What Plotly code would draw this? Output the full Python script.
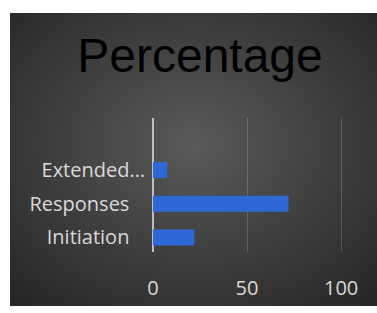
import base64
import plotly.graph_objects as go

categories = ["Initiation", "Responses", "Extended…"]
values = [22, 72, 7.5]
x_ticks = [0, 50, 100]

W, H = 377, 313
L, R, T, B = 153, 34, 118, 56
pw, ph = W - L - R, H - T - B

# padded tick text so short labels end further left (as in the reference)
pad = "\u00a0" * 3
tick_text = [categories[0] + pad, categories[1] + pad, categories[2]]

svg = ('<svg xmlns="http://www.w3.org/2000/svg" width="367" height="304" '
       'viewBox="0 0 367 304" preserveAspectRatio="none"><defs>'
       '<radialGradient id="g" cx="50%" cy="45%" r="72%">'
       '<stop offset="0" stop-color="#5a5a5a"/><stop offset="1" stop-color="#262626"/>'
       '</radialGradient></defs><rect width="367" height="304" fill="url(#g)"/></svg>')
src = "data:image/svg+xml;base64," + base64.b64encode(svg.encode()).decode()

fig = go.Figure()
fig.add_trace(go.Bar(
    y=categories, x=values, orientation="h", width=0.47,
    marker=dict(color="#2e68d5", line=dict(width=0)),
    hoverinfo="skip",
))

fig.add_layout_image(dict(
    source=src, xref="paper", yref="paper",
    x=(10 - L) / pw, y=(H - B - 9) / ph,
    sizex=(W - 10) / pw, sizey=(H - 9) / ph,
    xanchor="left", yanchor="top", sizing="stretch", layer="below",
))

fig.update_layout(
    width=W, height=H,
    margin=dict(l=L, r=R, t=T, b=B, pad=0),
    paper_bgcolor="white", plot_bgcolor="rgba(0,0,0,0)",
    showlegend=False,
    title=dict(text="Percentage", x=200 / W, xref="container", xanchor="center",
               y=1 - 55 / H, yref="container", yanchor="middle",
               font=dict(family="Liberation Sans", size=48, color="#000000")),
    xaxis=dict(range=[0, 101], tickvals=x_ticks, ticktext=[str(v) for v in x_ticks],
               showgrid=True, gridcolor="rgba(255,255,255,0.17)", gridwidth=1,
               zeroline=True, zerolinecolor="#bfbfbf", zerolinewidth=2,
               showline=False, ticks="", ticklabelstandoff=22,
               tickfont=dict(family="Open Sans", size=20, color="#d9d9d9"),
               fixedrange=True),
    yaxis=dict(type="category", categoryorder="array", categoryarray=categories,
               tickvals=categories, ticktext=tick_text, range=[-0.43, 3.54],
               showgrid=False, zeroline=False, showline=False, ticks="",
               ticklabelstandoff=7,
               tickfont=dict(family="Open Sans", size=20, color="#d9d9d9"),
               fixedrange=True),
)

fig.write_html("out.html", config={"displayModeBar": False},
               post_script="document.body.style.margin='0';")
